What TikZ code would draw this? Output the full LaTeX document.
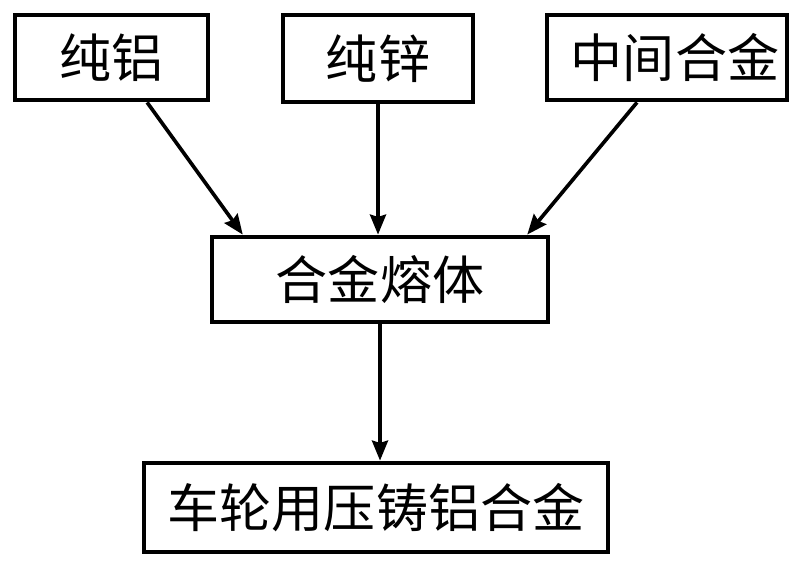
\documentclass[tikz,border=0pt]{standalone}
\usepackage{fontspec}
\usepackage{tikz}
\usetikzlibrary{arrows.meta, positioning, calc}
\newfontfamily\cjk{Noto Sans CJK SC}

\begin{document}
\begin{tikzpicture}[
    x=0.025cm, y=-0.025cm,
    box/.style={rectangle, draw, line width=3.4pt, inner sep=0pt, minimum height=2.125cm, align=center, font=\cjk\fontsize{37}{40}\selectfont},
    arrow/.style={->, line width=2.6pt, >={Stealth[length=0.5cm, width=0.4cm, inset=0.06cm]}}
]
    \useasboundingbox (0,0) rectangle (800,568);

    % Raw materials
    \node[box, minimum width=4.825cm] (al) at (111.5, 57.5) {纯铝};
    \node[box, minimum width=4.75cm, minimum height=2.175cm] (zn) at (378, 58.5) {纯锌};
    \node[box, minimum width=6cm] (master) at (667, 57.5) {\hspace*{0.4cm}中间合金};

    % Melt and product
    \node[box, minimum width=8.4cm] (melt) at (380, 279.5) {合金熔体};
    \node[box, minimum width=11.6cm, minimum height=2.225cm] (wheel) at (376, 507.5) {车轮用压铸铝合金};

    % Arrows
    \draw[arrow] ([xshift=0.89cm]al.south) -- ([xshift=-3.43cm]melt.north);
    \draw[arrow] (zn.south) -- (zn.south |- melt.north);
    \draw[arrow] ([xshift=-0.75cm]master.south) -- ([xshift=3.68cm]melt.north);
    \draw[arrow] (melt.south) -- (melt.south |- wheel.north);

\end{tikzpicture}
\end{document}
